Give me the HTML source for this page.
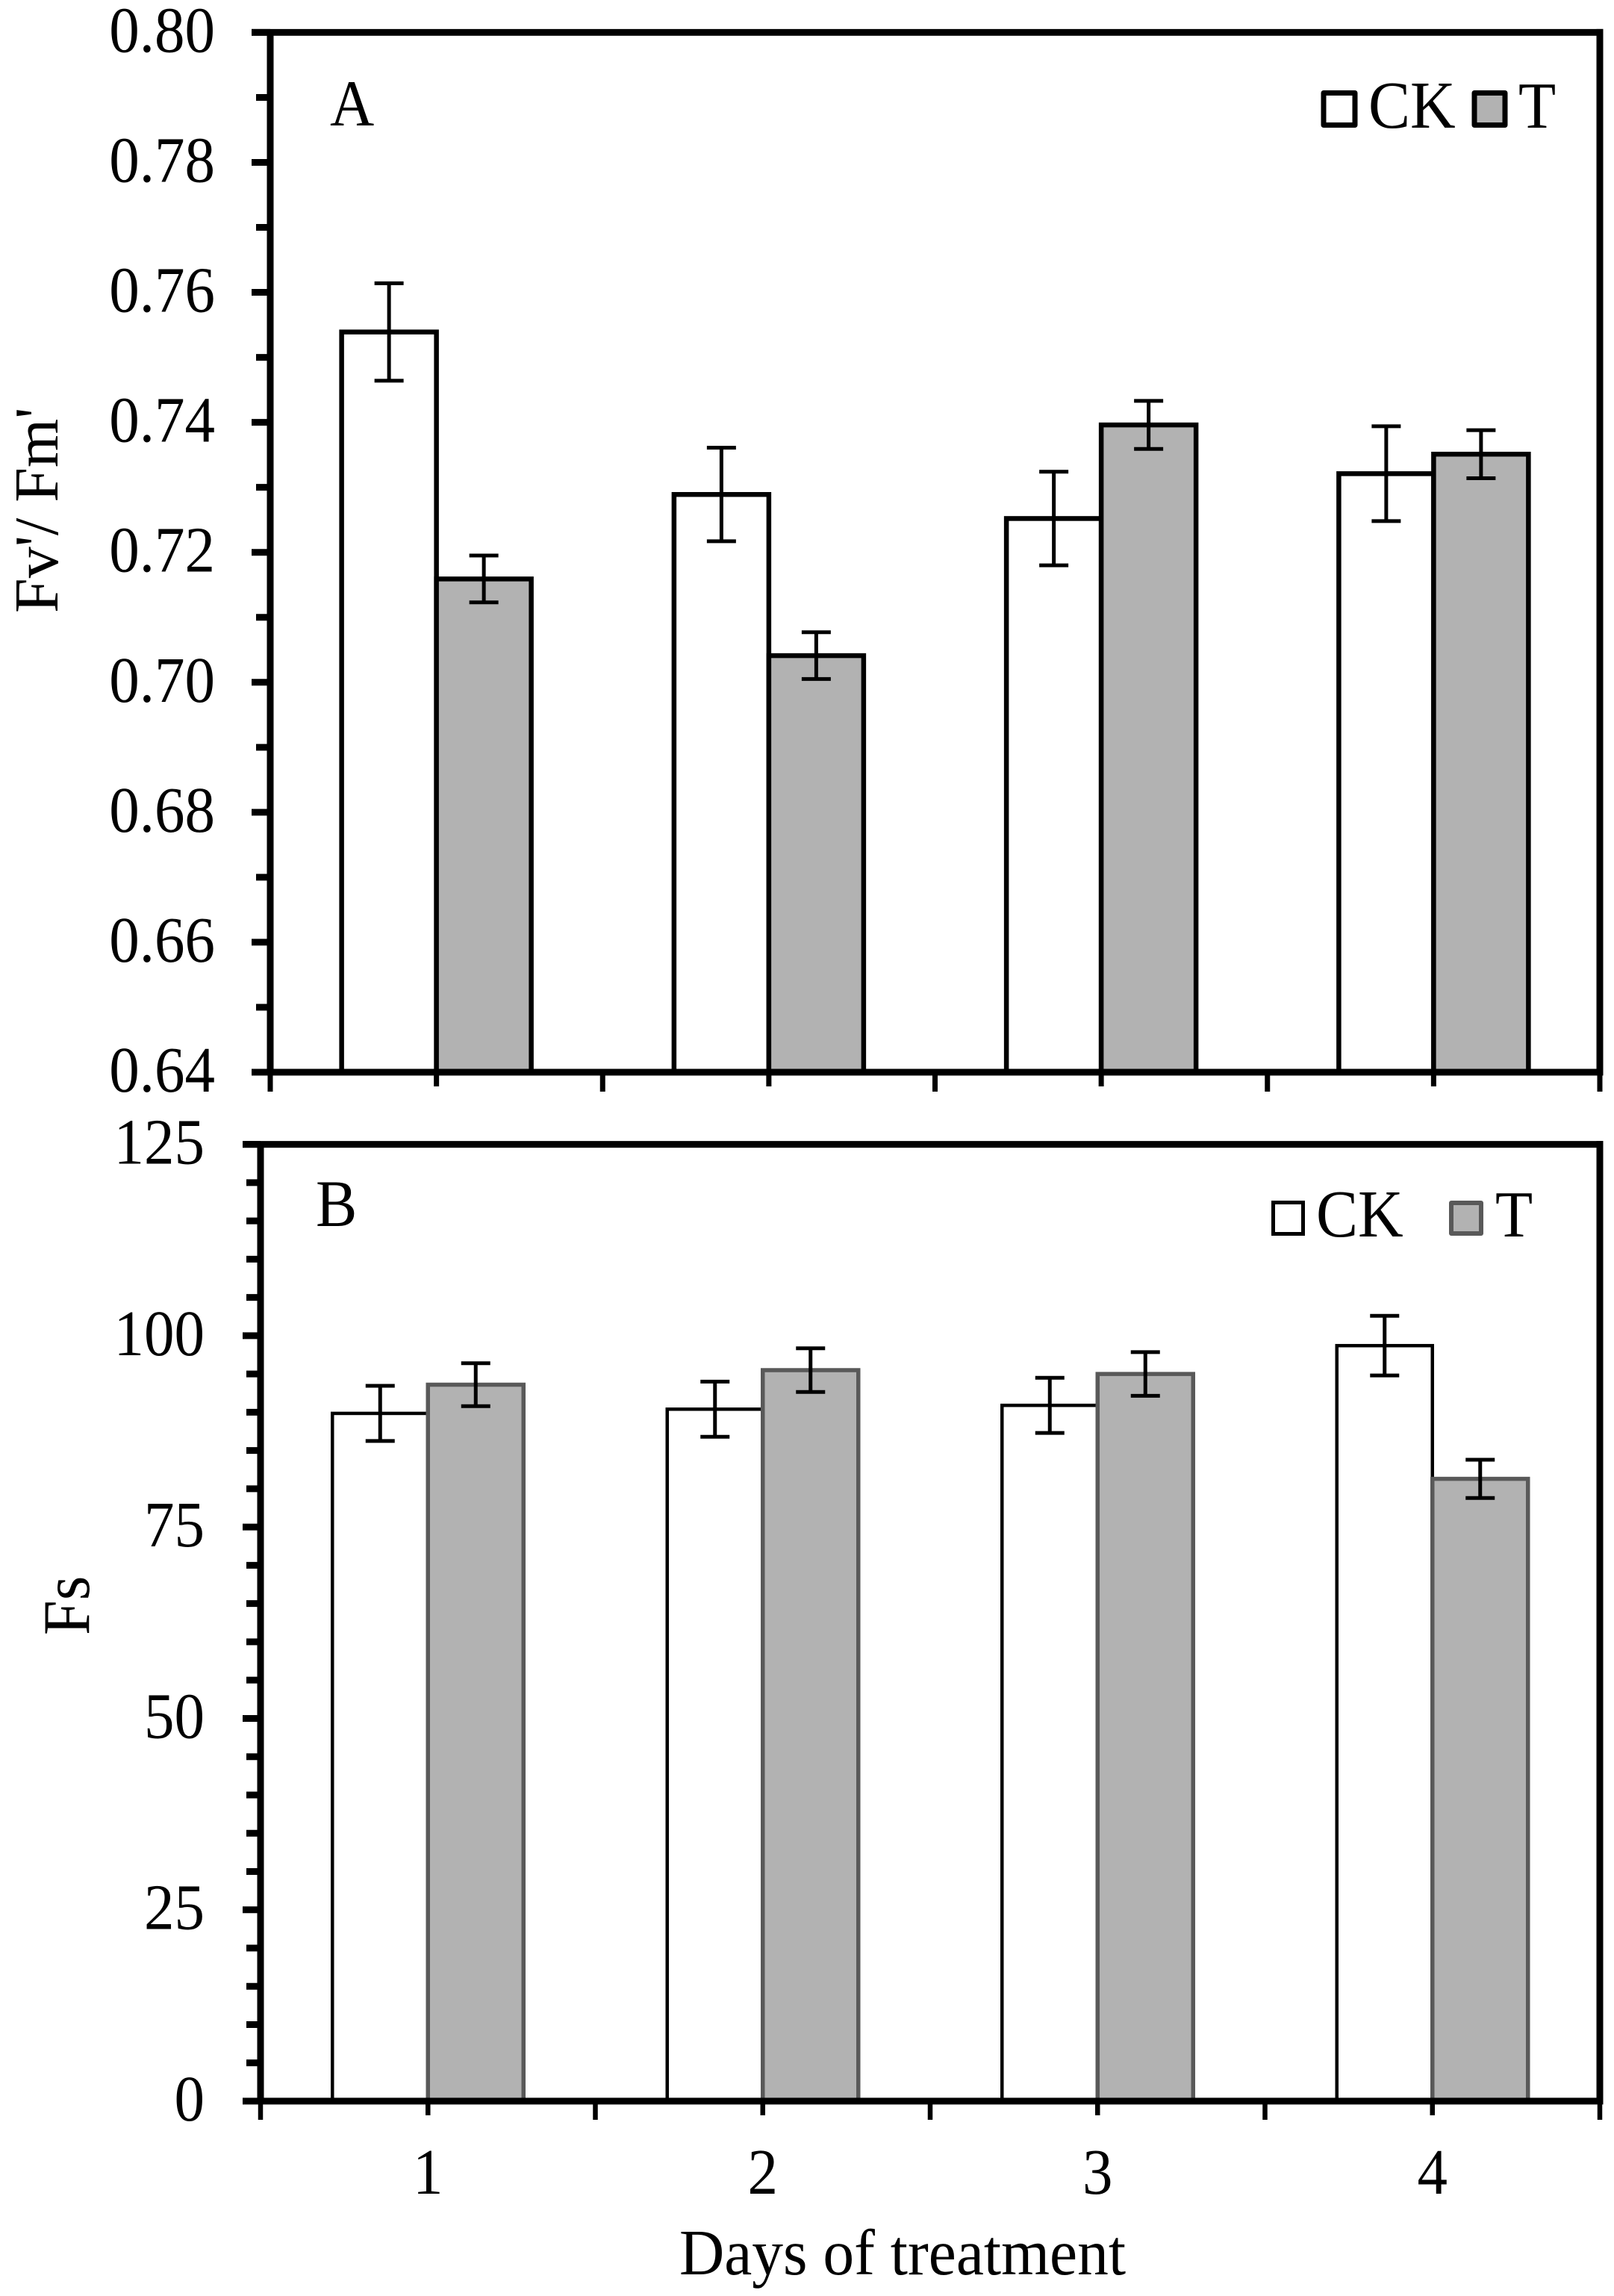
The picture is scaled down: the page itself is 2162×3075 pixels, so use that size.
<!DOCTYPE html>
<html lang="en">
<head>
<meta charset="utf-8">
<title>Fv'/Fm' and Fs by days of treatment</title>
<style>
html,body{margin:0;padding:0;background:#fff;}
svg{display:block;}
text{font-family:"Liberation Serif",serif;fill:#000;}
</style>
</head>
<body>
<svg id="figure" xmlns="http://www.w3.org/2000/svg" width="2162" height="3075" viewBox="0 0 2162 3075">
  <rect x="0" y="0" width="2162" height="3075" fill="#fff"/>
  <g id="panel-a"></g>
  <g id="panel-b"></g>

  <text transform="translate(442,168) scale(1,1.07)" font-size="82">A</text>
  <text transform="translate(423,1642) scale(1,1.07)" font-size="83">B</text>

  <g>
    <rect x="1773" y="124.5" width="42" height="43" fill="#fff" stroke="#000" stroke-width="7" stroke-linejoin="round"/>
    <text transform="translate(1833,171) scale(1,1.07)" font-size="84">CK</text>
    <rect x="1975" y="124.5" width="41" height="43" fill="#b2b2b2" stroke="#000" stroke-width="7" stroke-linejoin="round"/>
    <text transform="translate(2034,171) scale(1,1.07)" font-size="82">T</text>
  </g>
  <g>
    <rect x="1705.5" y="1610.5" width="40" height="42" fill="#fff" stroke="#000" stroke-width="5"/>
    <text transform="translate(1763,1656) scale(1,1.07)" font-size="84">CK</text>
    <rect x="1944" y="1611" width="40" height="41" fill="#b2b2b2" stroke="#595959" stroke-width="6" stroke-linejoin="round"/>
    <text transform="translate(2003,1656) scale(1,1.07)" font-size="82">T</text>
  </g>

  <text transform="translate(77,821) rotate(-90)" font-size="84">Fv'/ Fm'</text>
  <text transform="translate(119,2190) rotate(-90) scale(1,1.06)" font-size="84">Fs</text>
  <text transform="translate(1209,3046) scale(1,1.04)" font-size="83.5" text-anchor="middle">Days of treatment</text>
</svg>

<script>
// ---- data ----
const categories = ['1', '2', '3', '4'];
const tickLabelsA = ['0.64', '0.66', '0.68', '0.70', '0.72', '0.74', '0.76', '0.78', '0.80'];
const tickLabelsB = ['0', '25', '50', '75', '100', '125'];

const fvfmCK = [0.7539, 0.7289, 0.7252, 0.7321];
const fvfmT = [0.7159, 0.7041, 0.7396, 0.7351];
const fvfmCKErr = [0.0075, 0.0072, 0.0072, 0.0073];
const fvfmTErr = [0.0036, 0.0036, 0.0037, 0.0037];

const fsCK = [89.85, 90.4, 90.9, 98.7];
const fsT = [93.6, 95.5, 95.0, 81.3];
const fsCKErr = [3.6, 3.6, 3.6, 3.9];
const fsTErr = [2.8, 2.85, 2.85, 2.5];

// ---- axis functions ----
const SVG_NS = 'http://www.w3.org/2000/svg';
const yA = v => 1436 - (v - 0.64) / 0.16 * 1392.6;
const yB = v => 2814 - v / 125 * 1281.4;
const xA = g => 362 + g * (2143 - 362) / categories.length;
const xB = g => 349 + g * (2143 - 349) / categories.length;

function line(parent, name, x1, y1, x2, y2, width, color) {
  const el = document.createElementNS(SVG_NS, 'line');
  
  
  el.setAttribute('x1', x1);
  el.setAttribute('y1', y1);
  el.setAttribute('x2', x2);
  el.setAttribute('y2', y2);
  el.setAttribute('stroke', color);
  el.setAttribute('stroke-width', width);
  parent.appendChild(el);
  return el;
}

function bar(parent, name, x, y, w, h, fill, stroke, width) {
  const el = document.createElementNS(SVG_NS, 'rect');
  
  
  el.setAttribute('x', x);
  el.setAttribute('y', y);
  el.setAttribute('width', w);
  el.setAttribute('height', h);
  el.setAttribute('fill', fill);
  el.setAttribute('stroke', stroke);
  el.setAttribute('stroke-width', width);
  parent.appendChild(el);
  return el;
}

function label(parent, name, str, x, y, anchor) {
  const el = document.createElementNS(SVG_NS, 'text');
  
  
  el.setAttribute('transform', 'translate(' + x + ',' + y + ') scale(1,1.07)');
  el.setAttribute('font-size', '81');
  el.setAttribute('text-anchor', anchor);
  el.textContent = str;
  parent.appendChild(el);
  return el;
}

function errorBar(parent, name, x, yTop, yBottom, capHalf) {
  line(parent, name + '-stem', x, yTop, x, yBottom, 5, '#000');
  line(parent, name + '-cap-top', x - capHalf, yTop, x + capHalf, yTop, 5, '#000');
  line(parent, name + '-cap-bottom', x - capHalf, yBottom, x + capHalf, yBottom, 5, '#000');
}

// ---- panel A ----
const panelA = document.getElementById('panel-a');
const barWidthA = 127;
categories.forEach((day, i) => {
  const mid = xA(i + 0.5);
  bar(panelA, 'bar-ck-day-' + day, mid - barWidthA, yA(fvfmCK[i]), barWidthA, yA(0.64) - yA(fvfmCK[i]), '#fff', '#000', 6.5);
  bar(panelA, 'bar-t-day-' + day, mid, yA(fvfmT[i]), barWidthA, yA(0.64) - yA(fvfmT[i]), '#b2b2b2', '#000', 6.5);
});
categories.forEach((day, i) => {
  const mid = xA(i + 0.5);
  const cx1 = mid - barWidthA / 2;
  const cx2 = mid + barWidthA / 2;
  errorBar(panelA, 'error-ck-day-' + day, cx1, yA(fvfmCK[i] + fvfmCKErr[i]), yA(fvfmCK[i] - fvfmCKErr[i]), 19.5);
  errorBar(panelA, 'error-t-day-' + day, cx2, yA(fvfmT[i] + fvfmTErr[i]), yA(fvfmT[i] - fvfmTErr[i]), 19.5);
});
line(panelA, 'plot-border-top', 337, yA(0.80), 2147.5, yA(0.80), 9, '#000');
line(panelA, 'plot-border-right', xA(4), yA(0.80) - 4.5, xA(4), yA(0.64), 9, '#000');
line(panelA, 'y-axis-line', xA(0), yA(0.80), xA(0), yA(0.64), 9, '#000');
line(panelA, 'x-axis-line', 337, yA(0.64), 2147.5, yA(0.64), 9, '#000');
tickLabelsA.forEach((t, i) => {
  const v = parseFloat(t);
  line(panelA, 'y-major-tick', 337, yA(v), xA(0), yA(v), 9, '#000');
  label(panelA, 'y-tick-label', t, 288, yA(v) + 26, 'end');
  if (i < tickLabelsA.length - 1) {
    const minor = yA(v + 0.01);
    line(panelA, 'y-minor-tick', 343, minor, xA(0), minor, 9, '#000');
  }
});
for (let g = 0; g <= categories.length; g++) {
  line(panelA, 'x-major-tick', xA(g), yA(0.64), xA(g), 1462, 7, '#000');
  if (g < categories.length) {
    line(panelA, 'x-minor-tick', xA(g + 0.5), yA(0.64), xA(g + 0.5), 1455, 7, '#000');
  }
}

// ---- panel B ----
const panelB = document.getElementById('panel-b');
const barWidthB = 128;
categories.forEach((day, i) => {
  const mid = xB(i + 0.5);
  bar(panelB, 'bar-ck-day-' + day, mid - barWidthB, yB(fsCK[i]), barWidthB, yB(0) - yB(fsCK[i]), '#fff', '#000', 4.5);
});
categories.forEach((day, i) => {
  const mid = xB(i + 0.5);
  bar(panelB, 'bar-t-day-' + day, mid, yB(fsT[i]), barWidthB, yB(0) - yB(fsT[i]), '#b2b2b2', '#595959', 5.5);
});
categories.forEach((day, i) => {
  const mid = xB(i + 0.5);
  const cx1 = mid - barWidthB / 2;
  const cx2 = mid + barWidthB / 2;
  errorBar(panelB, 'error-ck-day-' + day, cx1, yB(fsCK[i] + fsCKErr[i]), yB(fsCK[i] - fsCKErr[i]), 19.5);
  errorBar(panelB, 'error-t-day-' + day, cx2, yB(fsT[i] + fsTErr[i]), yB(fsT[i] - fsTErr[i]), 19.5);
});
line(panelB, 'plot-border-top', 325, yB(125), 2147.5, yB(125), 9, '#000');
line(panelB, 'plot-border-right', xB(4), yB(125) - 4.5, xB(4), yB(0), 9, '#000');
line(panelB, 'y-axis-line', xB(0), yB(125), xB(0), yB(0), 9, '#000');
line(panelB, 'x-axis-line', 325, yB(0), 2147.5, yB(0), 9, '#000');
tickLabelsB.forEach((t, i) => {
  const v = parseFloat(t);
  line(panelB, 'y-major-tick', 325, yB(v), xB(0), yB(v), 9, '#000');
  label(panelB, 'y-tick-label', t, 274, yB(v) + 26, 'end');
  if (i < tickLabelsB.length - 1) {
    for (let m = 5; m < 25; m += 5) {
      line(panelB, 'y-minor-tick', 330, yB(v + m), xB(0), yB(v + m), 9, '#000');
    }
  }
});
for (let g = 0; g <= categories.length; g++) {
  line(panelB, 'x-major-tick', xB(g), yB(0), xB(g), 2839, 6.5, '#000');
  if (g < categories.length) {
    line(panelB, 'x-minor-tick', xB(g + 0.5), yB(0), xB(g + 0.5), 2833, 6.5, '#000');
    label(panelB, 'x-tick-label', categories[g], xB(g + 0.5), 2938, 'middle');
  }
}
</script>
</body>
</html>
